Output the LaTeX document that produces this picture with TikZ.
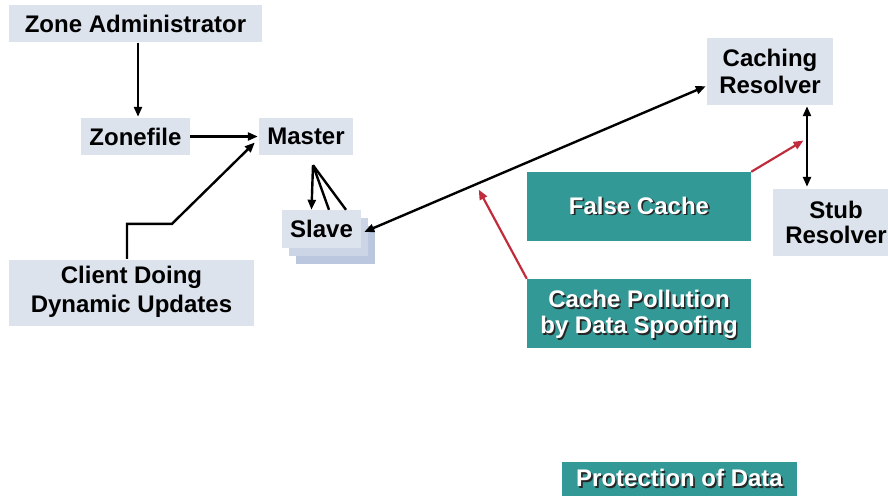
\documentclass[tikz,border=0pt]{standalone}
\usepackage{fontspec}
\setmainfont{Liberation Sans}
\usetikzlibrary{arrows.meta,calc}

\definecolor{boxgray}{RGB}{220,227,237}
\definecolor{tealbg}{RGB}{51,153,150}
\definecolor{stackA}{RGB}{204,213,230}
\definecolor{stackB}{RGB}{186,199,222}
\definecolor{spoofred}{RGB}{192,44,60}

% white lettering with a dark drop shadow, one or more centred lines
\newcommand\shadowlabel[1]{\raisebox{-2.5pt}[\height][\depth]{%
  \makebox[0pt][l]{\hspace{1.6pt}\raisebox{-1.6pt}{\color{black!85}\begin{tabular}{@{}c@{}}#1\end{tabular}}}%
  \begin{tabular}{@{}c@{}}#1\end{tabular}}}
% a text line set slightly higher without changing its box
\newcommand\liftline[1]{\raisebox{1.5pt}[\height][\depth]{#1}}

\begin{document}
\begin{tikzpicture}[
  x=1pt, y=-1pt,
  font=\fontsize{24}{29}\selectfont\bfseries,
  lightbox/.style={fill=boxgray, inner sep=0pt, align=center},
  tealbox/.style={fill=tealbg, text=white, inner sep=0pt},
  tip/.tip={Triangle[length=10pt,width=8pt]},
  link/.style={line width=2.4pt, -tip},
  twoway/.style={line width=2.4pt, tip-tip},
  plain/.style={line width=2.4pt},
  spoof/.style={spoofred, line width=2.2pt, -tip},
]
\clip (0,0) rectangle (888,496);

% zone side
\node[lightbox, minimum width=253pt, minimum height=37pt] (za) at (135.5,23.8) {Zone Administrator};
\node[lightbox, minimum width=109pt, minimum height=37pt] (zf) at (135.5,136.5) {Zonefile};
\node[lightbox, minimum width=94pt, minimum height=37pt] (master) at (306,136.5) {Master};
\node[lightbox, minimum width=245pt, minimum height=66pt] (client) at (131.5,293) {\liftline{Client Doing}\\\liftline{Dynamic Updates}};

% stack of slave servers
\fill[stackB] (296,226) rectangle (375,264);
\fill[stackA] (289,218) rectangle (368,256);
\node[lightbox, minimum width=79pt, minimum height=38pt] (slave) at (321.5,229) {Slave};

% resolver side
\node[lightbox, font=\fontsize{24}{27}\selectfont\bfseries, minimum width=126pt, minimum height=67pt] (cr) at (770,71.5) {Caching\\Resolver};
\node[lightbox, font=\fontsize{24}{25}\selectfont\bfseries, minimum width=126pt, minimum height=67pt] (stub) at (836,222.5) {Stub\\Resolver};

% threats and protection
\node[tealbox, minimum width=224pt, minimum height=69pt] (fc) at (639,206.5) {\shadowlabel{False Cache}};
\node[tealbox, font=\fontsize{24}{26}\selectfont\bfseries, minimum width=224pt, minimum height=69pt] (cp) at (639,313.5) {\shadowlabel{Cache Pollution\\by Data Spoofing}};
\node[tealbox, minimum width=235pt, minimum height=34pt] (pd) at (679.5,479) {\shadowlabel{Protection of Data}};

% data flow
\draw[link] ($(za.south)+(2.5,0)$) -- ($(zf.north)+(2.5,-1)$);
\draw[link, shorten >=1pt] (zf.east) -- (master.west);
\draw[link] ($(client.north)+(-4.5,-1)$) -- ++(0,-35) -- ++(45,0) -- ($(master.west)+(-4,6)$);

\coordinate (fan) at ($(master.south)+(7,10)$);
\draw[link] (fan) -- ($(slave.north)+(-10,0)$);
\draw[plain] (fan) -- ($(slave.north)+(7.5,0)$);
\draw[plain] (fan) -- ($(slave.north)+(24.5,0)$);

\coordinate (sl) at ($(slave.east)+(3,3)$);
\coordinate (crw) at ($(cr.south west)+(-1,-19)$);
\draw[twoway] (sl) -- (crw);

\coordinate (crs) at ($(cr.south)+(37,1)$);
\coordinate (stn) at ($(crs |- stub.north)+(0,-2)$);
\draw[twoway] (crs) -- (stn);

% spoofing attacks
\draw[spoof, shorten >=4pt] (fc.north east) -- ($(crs)!0.4!(stn)$);
\draw[spoof, shorten >=6pt] (cp.north west) -- ($(sl)!0.327!(crw)$);
\end{tikzpicture}
\end{document}
